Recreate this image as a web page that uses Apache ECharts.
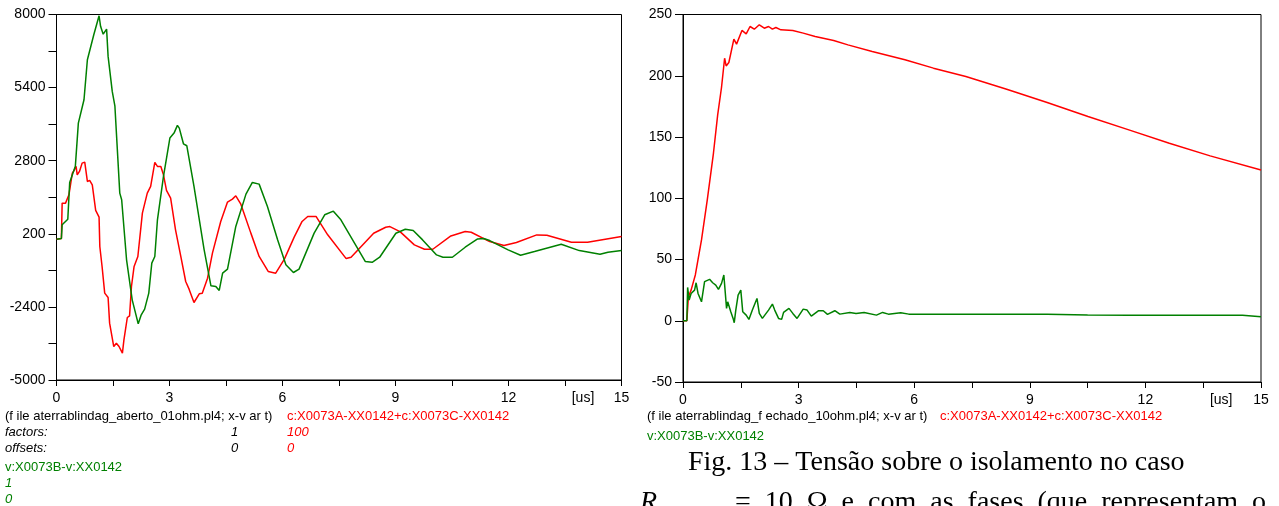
<!DOCTYPE html>
<html>
<head>
<meta charset="utf-8">
<script src="https://cdn.jsdelivr.net/npm/echarts@6/dist/echarts.min.js"></script>
<style>
html,body{margin:0;padding:0;background:#fff;}
#c{width:1279px;height:506px;}
</style>
</head>
<body>
<div id="c"></div>
<script>
// ---------- Left chart (aberto, 0.1 ohm) ----------
const leftGreenT = [0,0.13,0.15,0.3,0.35,0.5,0.58,0.73,0.82,0.99,1.13,1.17,1.24,1.33,1.37,1.48,1.55,1.68,1.73,1.86,2.01,2.17,2.25,2.34,2.39,2.45,2.53,2.61,2.68,2.84,3.01,3.12,3.21,3.26,3.37,3.46,3.65,3.92,4.10,4.23,4.32,4.41,4.54,4.76,5.03,5.20,5.38,5.60,5.87,6.09,6.29,6.44,6.84,7.12,7.35,7.55,8.2,8.38,8.58,9.01,9.26,9.47,9.72,10.09,10.26,10.51,10.85,11.18,11.34,11.5,11.99,12.32,12.69,13.4,13.88,14.43,14.64,15];
const leftGreenV = [10,30,520,720,2026,2600,4137,4968,6390,7280,7956,7580,7300,7480,6510,5265,4754,1647,1410,-725,-2148,-3002,-2682,-2480,-2527,-1910,-844,-606,698,2240,3604,3782,4055,3960,3402,3331,1884,-369,-1650,-1674,-1816,-1200,-1057,461,1611,2026,1967,1172,-13,-903,-1176,-1057,224,876,1006,698,-788,-812,-634,220,362,315,-17,-551,-634,-634,-278,18,30,-41,-373,-563,-433,-172,-397,-527,-456,-397];
const leftRedT = [0,0.13,0.15,0.18,0.24,0.33,0.42,0.46,0.52,0.55,0.61,0.68,0.75,0.82,0.88,0.95,1.04,1.13,1.15,1.21,1.28,1.37,1.41,1.52,1.59,1.66,1.75,1.79,1.88,1.94,1.99,2.06,2.16,2.28,2.41,2.5,2.61,2.68,2.77,2.84,2.92,3.03,3.16,3.30,3.43,3.52,3.65,3.79,3.87,4.01,4.14,4.36,4.54,4.67,4.76,4.89,5.16,5.38,5.62,5.82,6.05,6.31,6.52,6.67,6.89,7.2,7.69,7.82,8.42,8.74,8.85,9.12,9.5,9.77,9.99,10.47,10.85,11.01,11.5,11.88,12.21,12.75,13.02,13.67,14.1,15];
const leftRedV = [10,30,1291,1267,1291,1588,2358,2441,2596,2299,2418,2714,2750,2062,2098,1943,1030,793,-251,-962,-1911,-2065,-2978,-3809,-3690,-3809,-4046,-3571,-2777,-2718,-1674,-962,-606,935,1647,1884,2738,2596,2596,2299,1742,1469,342,-606,-1496,-1769,-2243,-1935,-1911,-1377,-488,639,1327,1433,1552,1267,224,-606,-1140,-1200,-701,81,639,817,817,164,-682,-634,220,433,457,279,-195,-350,-350,125,279,256,-77,-219,-112,161,149,-100,-100,101];
const leftYTicks = ['8000','5400','2800','200','-2400','-5000'];

// ---------- Right chart (fechado, 10 ohm) ----------
const rightRedT = [0,0.1,0.14,0.21,0.32,0.48,0.63,0.79,0.9,1.0,1.08,1.12,1.19,1.32,1.39,1.53,1.64,1.74,1.85,1.98,2.11,2.22,2.32,2.41,2.54,2.85,3.12,3.43,3.91,4.28,4.91,5.76,6.5,7.34,8.4,9.45,10.51,11.57,12.62,13.68,15];
const rightRedV = [0,0,19.6,25,37.4,66,98.6,136.7,168,190.6,214.3,208,210.8,229.9,225.8,237,234.2,240.2,238,241.6,238.8,240.2,238,239.4,237.5,236.9,234.8,232,228.8,225.2,219.8,213,206.2,199.4,189,178.1,166.7,155.8,144.9,134.6,123.1];
const rightGreenT = [0,0.1,0.12,0.16,0.21,0.30,0.34,0.39,0.48,0.53,0.56,0.69,0.77,0.85,0.92,1.0,1.06,1.11,1.13,1.16,1.24,1.3,1.33,1.37,1.43,1.5,1.55,1.64,1.71,1.8,1.92,1.98,2.06,2.11,2.22,2.32,2.38,2.48,2.56,2.61,2.75,2.85,2.96,3.12,3.22,3.33,3.52,3.64,3.75,3.94,4.07,4.33,4.49,4.7,5.02,5.18,5.33,5.65,5.86,9.45,10.5,11.57,14.52,15];
const rightGreenV = [0,0,27.2,16.9,22.3,25,31,22.3,15.5,16.9,31.9,33.8,31,29.1,25.6,30.5,37.3,38.1,10.1,15.5,7.4,1.9,-1.6,8.7,21,25,7.4,4.6,1.1,8.7,18.2,6,1.9,0.5,8.7,13.6,8.7,1.9,1.1,6.8,10.1,6,1.9,9.5,8.7,3.8,8.2,8.2,5.2,8.2,5.4,6.8,6,6.8,4.6,6.8,5.4,6.5,5.4,5.4,4.6,4.4,4.4,3.3];
const rightYTicks = ['250','200','150','100','50','0','-50'];
const xTickLabels = ['0','3','6','9','12','15'];

const zip = (t, v) => t.map((x, i) => [x, v[i]]);

const RED = '#ff0000', GREEN = '#008000';
const FONT = 'Liberation Sans, Arial, sans-serif';
const SERIF = 'Liberation Serif, Times New Roman, serif';

function xAxis(gridIndex) {
  return {
    type: 'value', gridIndex, min: 0, max: 15, interval: 1.5,
    axisLine: { show: true, onZero: false, lineStyle: { color: '#000', width: 1 } },
    axisTick: { show: true, length: 6, lineStyle: { color: '#000' } },
    splitLine: { show: false },
    axisLabel: {
      color: '#000', fontFamily: FONT, fontSize: 14, margin: 11,
      formatter: function (v) {
        const k = Math.round(v / 1.5);
        if (k === 9) return '{u|[us]}';
        if (k % 2 === 0) {
          const s = String(Math.round(v));
          return xTickLabels.indexOf(s) >= 0 ? s : '';
        }
        return '';
      },
      rich: { u: { fontFamily: FONT, fontSize: 14, color: '#000', padding: [0, 0, 0, 36] } }
    }
  };
}

function yAxis(gridIndex, min, max, interval, labels, every) {
  return {
    type: 'value', gridIndex, min, max, interval,
    axisLine: { show: true, onZero: false, lineStyle: { color: '#000', width: 1 } },
    axisTick: { show: true, length: 8, lineStyle: { color: '#000' } },
    splitLine: { show: false },
    axisLabel: {
      color: '#000', fontFamily: FONT, fontSize: 14, margin: 11,
      formatter: function (v) {
        const k = Math.round((v - min) / interval);
        if (k % every !== 0) return '';
        const s = String(Math.round(v));
        return labels.indexOf(s) >= 0 ? s : '';
      }
    }
  };
}

const chart = echarts.init(document.getElementById('c'), null, { renderer: 'canvas' });

const small = (text, x, y, color, italic) => ({
  type: 'text', left: x, top: y,
  style: { text, fill: color, font: (italic ? 'italic ' : '') + '13px ' + FONT }
});

chart.setOption({
  animation: false,
  backgroundColor: '#fff',
  grid: [
    { left: 56.5, top: 14.5, width: 565, height: 365.5, show: true, borderColor: '#000', borderWidth: 1, containLabel: false },
    { left: 683, top: 14.5, width: 578, height: 367.5, show: true, borderColor: '#000', borderWidth: 1, containLabel: false }
  ],
  xAxis: [xAxis(0), xAxis(1)],
  yAxis: [
    yAxis(0, -5000, 8000, 1300, leftYTicks, 2),
    yAxis(1, -50, 250, 50, rightYTicks, 1)
  ],
  series: [
    { type: 'line', xAxisIndex: 0, yAxisIndex: 0, data: zip(leftRedT, leftRedV), showSymbol: false, symbol: 'none', lineStyle: { color: RED, width: 1.5 }, z: 3 },
    { type: 'line', xAxisIndex: 0, yAxisIndex: 0, data: zip(leftGreenT, leftGreenV), showSymbol: false, symbol: 'none', lineStyle: { color: GREEN, width: 1.5 }, z: 4 },
    { type: 'line', xAxisIndex: 1, yAxisIndex: 1, data: zip(rightRedT, rightRedV), showSymbol: false, symbol: 'none', lineStyle: { color: RED, width: 1.5 }, z: 3 },
    { type: 'line', xAxisIndex: 1, yAxisIndex: 1, data: zip(rightGreenT, rightGreenV), showSymbol: false, symbol: 'none', lineStyle: { color: GREEN, width: 1.5 }, z: 4 }
  ],
  graphic: [
    small('(f ile aterrablindag_aberto_01ohm.pl4; x-v ar t)', 5, 410, '#000', false),
    small('c:X0073A-XX0142+c:X0073C-XX0142', 287, 410, RED, false),
    small('factors:', 5, 426, '#000', true),
    small('1', 231, 426, '#000', true),
    small('100', 287, 426, RED, true),
    small('offsets:', 5, 442, '#000', true),
    small('0', 231, 442, '#000', true),
    small('0', 287, 442, RED, true),
    small('v:X0073B-v:XX0142', 5, 461, GREEN, false),
    small('1', 5, 477, GREEN, true),
    small('0', 5, 493, GREEN, true),
    small('(f ile aterrablindag_f echado_10ohm.pl4; x-v ar t)', 647, 410, '#000', false),
    small('c:X0073A-XX0142+c:X0073C-XX0142', 940, 410, RED, false),
    small('v:X0073B-v:XX0142', 647, 430, GREEN, false),
    { type: 'text', left: 688, top: 449, style: { text: 'Fig. 13 – Tensão sobre o isolamento no caso', fill: '#000', font: '28px ' + SERIF } },
    { type: 'text', left: 640, top: 489, style: { text: 'R', fill: '#000', font: 'italic 28px ' + SERIF } },
    { type: 'text', left: 735, top: 489, style: { text: '=  10  Ω  e  com  as  fases  (que  representam  o', fill: '#000', font: '28px ' + SERIF } }
  ]
});
</script>
</body>
</html>
